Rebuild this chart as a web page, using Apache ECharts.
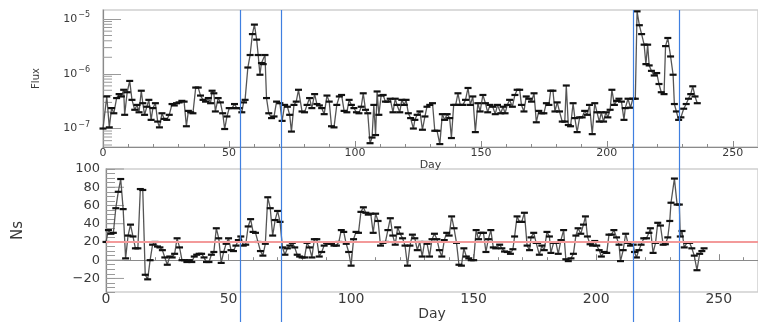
<!DOCTYPE html>
<html><head><meta charset="utf-8">
<script src="https://cdn.jsdelivr.net/npm/echarts@6/dist/echarts.min.js"></script>
<style>html,body{margin:0;padding:0;background:#fff}#c{width:758px;height:322px}</style>
</head><body><div id="c"></div>
<script>
// ---------- data ----------
const topDays = [0,1.5,2.5,3.4,4.3,5.4,6.4,7.3,8.2,8.6,9.6,10.6,11.5,12.6,13.5,14.3,15.2,15.8,16.5,17.4,18.2,19.1,19.8,20.8,21.7,22.4,23.4,24.3,25.3,26.3,27.4,28.3,29.2,30.2,31.3,32.2,33.1,33.9,34.8,35.7,36.8,37.8,38.7,39.7,40.7,41.8,42.7,43.3,44.0,44.6,45.7,46.6,47.5,48.3,49.2,50.1,51.2,52.2,53.1,54.0,55.1,55.8,56.4,57.5,58.4,59.3,60.1,61.0,61.6,62.3,62.9,63.6,64.3,64.9,65.8,66.9,67.9,68.9,70.2,71.1,72.1,73.2,74.1,74.8,75.8,76.7,77.6,79.0,80.0,81.0,82.0,82.9,84.0,84.9,85.9,86.8,87.8,88.9,89.8,90.7,91.7,92.8,93.8,94.7,95.7,96.8,97.7,98.6,99.6,100.6,101.6,102.5,103.3,104.2,105.1,106.0,106.8,107.5,108.2,108.8,109.5,110.4,111.2,112.1,113.0,114.0,115.1,116.0,116.7,117.8,118.6,119.6,120.3,121.2,122.1,123.2,123.8,124.7,125.8,126.8,127.8,128.6,129.7,130.8,131.7,132.6,133.7,134.7,135.6,136.6,137.6,138.3,139.2,140.0,140.9,141.8,142.9,143.9,144.9,145.8,146.8,147.8,148.8,149.7,150.8,151.8,152.7,153.6,154.7,155.7,156.6,157.9,158.8,159.6,160.5,161.4,162.5,163.5,164.4,165.4,166.1,167.1,168.0,169.1,170.1,171.1,172.0,173.0,174.1,175.0,176.0,177.0,177.7,178.6,179.4,180.3,181.2,182.3,183.3,183.9,184.7,185.6,186.6,187.3,188.2,189.2,190.2,191.2,192.2,193.1,194.2,195.2,196.1,197.0,197.8,198.7,199.6,200.4,201.3,202.0,203.0,203.9,204.8,205.8,206.8,207.3,208.4,209.4,210.3,211.3,212.0,212.9,213.8,214.8,215.5,216.2,216.8,217.7,218.8,219.8,220.7,221.6,222.7,223.3,224.2,225.3,226.3,226.8,227.6,228.5,229.4,230.5,231.5,232.4,233.3,234.1,235.0,235.9];
const topFlux = [1.0e-7,3.85e-7,1.05e-7,2.36e-7,1.9e-7,3.6e-7,4.25e-7,3.85e-7,5.1e-7,1.78e-7,4.6e-7,7.4e-7,3.34e-7,2.2e-7,2.7e-7,1.98e-7,4.9e-7,2.9e-7,1.78e-7,2.5e-7,3.34e-7,1.44e-7,2.36e-7,2.9e-7,1.34e-7,1.05e-7,1.9e-7,1.5e-7,1.44e-7,1.78e-7,2.8e-7,2.64e-7,2.9e-7,3.0e-7,3.2e-7,3.1e-7,1.1e-7,2.1e-7,1.98e-7,1.9e-7,5.6e-7,5.6e-7,4.0e-7,3.34e-7,3.1e-7,3.6e-7,2.9e-7,4.9e-7,4.4e-7,2.05e-7,3.6e-7,3.0e-7,1.9e-7,9.8e-8,1.66e-7,2.36e-7,2.36e-7,2.8e-7,2.36e-7,2.36e-7,1.98e-7,3.0e-7,3.34e-7,1.3e-6,2.2e-6,5.3e-6,7.9e-6,4.2e-6,2.2e-6,9.6e-7,1.57e-6,1.5e-6,2.2e-6,3.6e-7,1.9e-7,1.55e-7,1.66e-7,3.1e-7,2.9e-7,1.38e-7,2.7e-7,2.5e-7,1.78e-7,8.8e-8,2.7e-7,3.1e-7,5.1e-7,2.05e-7,1.98e-7,2.7e-7,3.6e-7,2.36e-7,4.25e-7,2.8e-7,2.64e-7,2.36e-7,1.83e-7,4.0e-7,3.1e-7,1.1e-7,1.05e-7,2.7e-7,3.85e-7,4.1e-7,2.1e-7,1.98e-7,3.34e-7,2.7e-7,2.36e-7,1.98e-7,1.9e-7,2.5e-7,4.4e-7,2.2e-7,1.9e-7,5.4e-8,6.85e-8,2.7e-7,7.6e-8,4.75e-7,1.78e-7,4.0e-7,4.1e-7,3.1e-7,3.1e-7,3.5e-7,1.98e-7,3.5e-7,2.7e-7,1.98e-7,3.34e-7,2.7e-7,3.34e-7,1.9e-7,1.55e-7,1.0e-7,1.44e-7,1.78e-7,2.05e-7,9.5e-8,1.66e-7,2.5e-7,2.7e-7,2.9e-7,9.1e-8,9.1e-8,5.2e-8,1.83e-7,1.44e-7,1.83e-7,1.55e-7,6.7e-8,2.7e-7,2.7e-7,4.4e-7,2.7e-7,2.7e-7,3.34e-7,5.5e-7,2.7e-7,3.85e-7,8.6e-8,2.9e-7,2.05e-7,4.1e-7,2.9e-7,1.98e-7,2.7e-7,2.5e-7,1.83e-7,2.7e-7,1.9e-7,2.5e-7,1.9e-7,2.7e-7,3.34e-7,2.5e-7,4.1e-7,5.1e-7,5.1e-7,2.7e-7,2.05e-7,3.85e-7,3.5e-7,3.1e-7,4.4e-7,1.3e-7,2.1e-7,1.9e-7,1.9e-7,2.9e-7,2.7e-7,4.9e-7,4.9e-7,2.05e-7,3.0e-7,2.05e-7,1.34e-7,1.34e-7,6.1e-7,1.16e-7,1.1e-7,2.9e-7,1.55e-7,8.6e-8,1.6e-7,1.6e-7,2.1e-7,1.78e-7,2.7e-7,7.9e-8,2.9e-7,1.98e-7,1.34e-7,1.98e-7,1.34e-7,1.98e-7,1.6e-7,2.2e-7,5.1e-7,2.7e-7,3.2e-7,3.5e-7,3.1e-7,1.44e-7,2.36e-7,3.5e-7,2.4e-7,3.5e-7,3.5e-7,1.38e-5,7.7e-6,5.3e-6,3.4e-6,1.5e-6,3.4e-6,1.42e-6,1.13e-6,9.3e-7,1.03e-6,6.5e-7,4.6e-7,4.25e-7,3.2e-6,4.5e-6,2.07e-6,9.6e-7,2.8e-7,2.05e-7,1.44e-7,1.6e-7,2.3e-7,2.8e-7,3.5e-7,4.25e-7,5.9e-7,3.85e-7,2.9e-7];

const bottomDaysLate = [160.6,161.5,162.6,163.7,165.0,166.0,166.7,167.7,168.7,169.6,170.7,171.8,172.8,173.4,174.5,175.5,176.1,176.8,177.8,178.8,179.9,180.9,181.5,182.6,183.6,184.5,185.6,186.7,187.6,188.6,189.7,190.7,191.7,192.6,193.7,194.8,195.6,196.4,197.5,198.5,199.4,200.2,201.2,202.1,203.2,204.3,205.2,206.2,207.2,208.3,209.3,209.9,211.0,212.0,212.9,214.0,215.1,215.6,216.4,217.4,218.3,219.4,220.5,221.5,222.1,223.2,224.2,225.1,226.2,227.3,228.2,229.2,230.0,230.5,231.9,233.0,233.9,234.3,235.0,235.9,237.0,238.1,239.0,240.0,241.1,242.2,243.1,244.0];
const bottomNsEarly = [20,33,29,30,57,75,89,56,2,27, 39,26,13,13,78,77,-16,-21,0,17, 20,15,14,11,3,-5,4,3,7,24, 14,0,0,-2,0,-2,4,6,7,7, 3,-2,-2,6,9,35,24,-3,9,18, 24,11,10,16,22,26,16,17,37,45, 31,30,20,10,5,18,69,57,27,44, 54,42,14,6,13,16,19,14,6,4, 3,3,19,14,3,23,23,4,9,16, 19,18,18,16,16,20,33,31,18,9, -6,23,31,30,53,58,52,50,51,30, 51,43,16,19,20,33,46,27,17,36, 29,24,16,-6,16,28,24,11,20,4, 20,18,4,23,29,23,11,4,22,30, 27,48,35,19,-5,-6,13,4,2,0, 0,33,23,30,30,9,23,33,14,13];
const bottomNsLate = [17,13,9.5,9,7,12,26,48,42,42, 52,16,11,25,30,19,19,6,16,11, 31,26,8,19,19,7,22,33,1,-1, 2,7,27,35,29,39,48,26,17.5,16, 21,16,11,4,9,8,28,28,33,25, 17,-1,11,29,19,16,17,9,3,11, 17,24,24,30,35,8,19,41,38,17, 17.5,25,43,63,89.5,61,61,26,32,14, 19,19,13,5,-11,7,10,13];

const fluxThreshold = 5.2e-7;
const nsThreshold = 20;
const eventDays = [54.5, 70.6, 210.3, 228.6];
const fluxMinorTicks = [5e-8,6e-8,7e-8,8e-8,9e-8,2e-7,3e-7,4e-7,5e-7,6e-7,7e-7,8e-7,9e-7,2e-6,3e-6,4e-6,5e-6,6e-6,7e-6,8e-6,9e-6];
const nsMajorTicks = [-20,0,20,40,60,80,100];

// ---------- build ----------
const bottomDays = bottomNsEarly.map((v,i)=>i).concat(bottomDaysLate);
const bottomNs = bottomNsEarly.concat(bottomNsLate);
const topData = topDays.map((d,i)=>[d, topFlux[i]]);
const bottomData = bottomDays.map((d,i)=>[d, bottomNs[i]]);

const FONT = 'DejaVu Sans';
const TXT = '#3a3a3a';
const AX = '#8a8a8a';

function tickSeries(xi, yi, values, len){
  return {
    type:'custom', xAxisIndex:xi, yAxisIndex:yi, silent:true, clip:false, z:1,
    data: values.map(v=>[0, v]),
    renderItem: (params, api) => {
      const p = api.coord([api.value(0), api.value(1)]);
      return {type:'line', shape:{x1:p[0], y1:p[1], x2:p[0]+len, y2:p[1]}, style:{stroke:'#9a9a9a', lineWidth:1}};
    }
  };
}

const lineSeries = (xi, yi, data, thr) => ({
  type:'line', xAxisIndex:xi, yAxisIndex:yi, data:data,
  symbol:'rect', symbolSize:[7,2.2], itemStyle:{color:'#111'},
  lineStyle:{color:'#555', width:1.3}, z:4, animation:false,
  markLine:{silent:true, symbol:['none','none'], label:{show:false}, animation:false,
    lineStyle:{color:'#f39a9a', width:2, type:'solid'}, data:[{yAxis:thr}]}
});

const chart = echarts.init(document.getElementById('c'), null, {renderer:'canvas'});
chart.setOption({
  animation:false,
  backgroundColor:'#fff',
  textStyle:{fontFamily:FONT},
  grid:[
    {left:103, top:10, width:662, height:137, show:true, borderColor:'#cfcfcf', borderWidth:1.5},
    {left:106, top:169, width:655, height:137.3, show:true, borderColor:'#cfcfcf', borderWidth:1.5},
    {left:103, top:10, width:662, height:312}
  ],
  xAxis:[
    {gridIndex:0, type:'value', min:0, max:260, interval:50,
     axisLine:{lineStyle:{color:AX, width:1.2}},
     axisTick:{inside:true, length:6, lineStyle:{color:AX}},
     minorTick:{show:true, splitNumber:5, length:3, lineStyle:{color:AX}},
     splitLine:{show:false},
     axisLabel:{fontSize:11, color:TXT, margin:1, showMaxLabel:false, fontFamily:FONT},
     name:'Day', nameLocation:'middle', nameGap:4, nameTextStyle:{fontSize:11, color:TXT, fontFamily:FONT}},
    {gridIndex:1, type:'value', min:0, max:266, interval:50,
     axisLine:{lineStyle:{color:AX, width:1.2}},
     axisTick:{inside:true, length:6, lineStyle:{color:AX}},
     minorTick:{show:true, splitNumber:5, length:3, lineStyle:{color:AX}},
     splitLine:{show:false},
     axisLabel:{fontSize:14, color:TXT, margin:0, showMaxLabel:false, fontFamily:FONT},
     name:'Day', nameLocation:'middle', nameGap:6, nameTextStyle:{fontSize:14, color:TXT, fontFamily:FONT}},
    {gridIndex:2, type:'value', min:0, max:260, show:false}
  ],
  yAxis:[
    {gridIndex:0, type:'log', logBase:10, min:4.6e-8, max:1.46e-5,
     axisLine:{show:true, lineStyle:{color:AX, width:1.2}},
     axisTick:{show:true, inside:true, length:18, lineStyle:{color:'#9a9a9a'}},
     splitLine:{show:false},
     axisLabel:{margin:13, showMinLabel:false, showMaxLabel:false,
       formatter: v => { const l = Math.log10(v); const e = Math.round(l); if (Math.abs(l-e) > 1e-6) return ''; return '{b|10}{s|\u2212' + Math.abs(e) + '}'; },
       rich:{b:{fontSize:11, color:TXT, fontFamily:FONT}, s:{fontSize:8, color:TXT, fontFamily:FONT, padding:[0,0,8,1]}}},
     name:'Flux', nameLocation:'middle', nameGap:62, nameRotate:90, nameTextStyle:{fontSize:10, color:TXT, fontFamily:FONT}},
    {gridIndex:1, type:'value', min:-35, max:100, interval:5,
     axisLine:{show:true, lineStyle:{color:AX, width:1.2}},
     axisTick:{show:true, inside:true, length:9, lineStyle:{color:'#9a9a9a'}},
     splitLine:{show:false},
     axisLabel:{margin:6, fontSize:13, color:TXT, fontFamily:FONT,
       formatter: v => (Math.round(v) % 20 === 0 && v >= -20) ? (v < 0 ? '\u2212' + Math.abs(v) : String(v)) : ''},
     name:'Ns', nameLocation:'middle', nameGap:80, nameRotate:90, nameTextStyle:{fontSize:15, color:TXT, fontFamily:FONT}},
    {gridIndex:2, type:'value', min:0, max:1, show:false}
  ],
  series:[
    {type:'line', xAxisIndex:2, yAxisIndex:2, data:[], z:2, silent:true,
     markLine:{silent:true, symbol:['none','none'], label:{show:false}, animation:false,
       lineStyle:{color:'#3f7fe0', width:1.2, type:'solid'},
       data: eventDays.map(d=>({xAxis:d}))}},
    tickSeries(0, 0, fluxMinorTicks, 9),
    tickSeries(1, 1, nsMajorTicks, 18),
    lineSeries(0, 0, topData, fluxThreshold),
    lineSeries(1, 1, bottomData, nsThreshold)
  ]
});
</script></body></html>
